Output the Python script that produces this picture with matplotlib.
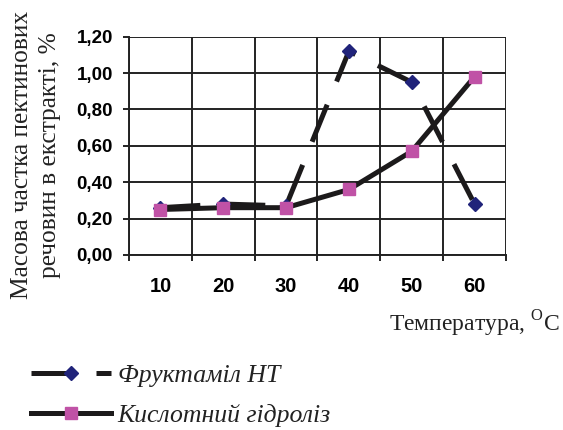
import numpy as np
import matplotlib
matplotlib.use("Agg")
import matplotlib.pyplot as plt
from matplotlib.ticker import FixedLocator

plt.rcParams['mathtext.fontset'] = 'custom'
plt.rcParams['mathtext.rm'] = 'Liberation Serif'

# data
temps = ['10', '20', '30', '40', '50', '60']
fruktamil = [0.26, 0.28, 0.27, 1.12, 0.95, 0.28]
kyslotnyi = [0.25, 0.26, 0.26, 0.36, 0.57, 0.98]
yticks = [0.0, 0.2, 0.4, 0.6, 0.8, 1.0, 1.2]
label1 = 'Фруктамiл НТ'
label2 = 'Кислотний гідроліз'

fig = plt.figure(figsize=(5.63, 4.30), dpi=100)
ax = fig.add_axes([0.2291, 0.4070, 0.6696, 0.5077])

X = np.arange(len(temps))

l1, = ax.plot(X, fruktamil, color='#1c1a1b', lw=3.6, dashes=(8, 5),
              marker='D', ms=6.8, mfc='#20237a', mec='#20237a', zorder=3)
l2, = ax.plot(X, kyslotnyi, color='#1c1a1b', lw=3.6,
              marker='s', ms=8, mfc='#c052a6', mec='#c052a6', zorder=4)

ax.set_xlim(-0.5, len(temps) - 0.5)
ax.set_ylim(0, 1.2)
ax.xaxis.set_major_locator(FixedLocator(np.arange(len(temps) + 1) - 0.5))
ax.xaxis.set_minor_locator(FixedLocator(X))
ax.set_xticklabels([''] * (len(temps) + 1))
ax.set_xticklabels(temps, minor=True)
ax.set_yticks(yticks)
ax.set_yticklabels([('%.2f' % v).replace('.', ',') for v in yticks])

for lab in ax.get_xticklabels(minor=True):
    lab.set_fontfamily('Liberation Sans')
    lab.set_fontweight('bold')
    lab.set_fontsize(14.5)
for lab in ax.get_yticklabels():
    lab.set_fontfamily('Liberation Sans')
    lab.set_fontweight('bold')
    lab.set_fontsize(13.5)

ax.tick_params(axis='x', which='major', length=4, width=1.4, direction='out', color='#222')
ax.tick_params(axis='x', which='minor', length=0, pad=16)
ax.tick_params(axis='y', length=4.5, width=1.4, direction='out', pad=7, color='#222')

ax.grid(True, which='major', color='#222', lw=1.4)
ax.set_axisbelow(True)
for s in ['top', 'right']:
    ax.spines[s].set_visible(False)
for s in ['left', 'bottom']:
    ax.spines[s].set_linewidth(1.4)
    ax.spines[s].set_color('#222')

fig.text(0.064, 0.64, 'Масова частка пектинових\nречовин в екстракті, %',
         rotation=90, ha='center', va='center', multialignment='center',
         family='Liberation Serif', fontsize=18.3, linespacing=1.4, color='#222')

fig.text(0.995, 0.228, r'Температура, $^{\mathrm{O}}$C', ha='right', va='baseline',
         family='Liberation Serif', fontsize=17, color='#222')

leg = fig.legend([l1, l2], [label1, label2], loc='upper left',
                 bbox_to_anchor=(0.014, 0.208), frameon=False, numpoints=1,
                 handlelength=3.1, handletextpad=0.27, labelspacing=0.68,
                 prop={'family': 'Liberation Serif', 'style': 'italic', 'size': 18.5})
for t in leg.get_texts():
    t.set_color('#222')

fig.savefig('out.png', dpi=100)
